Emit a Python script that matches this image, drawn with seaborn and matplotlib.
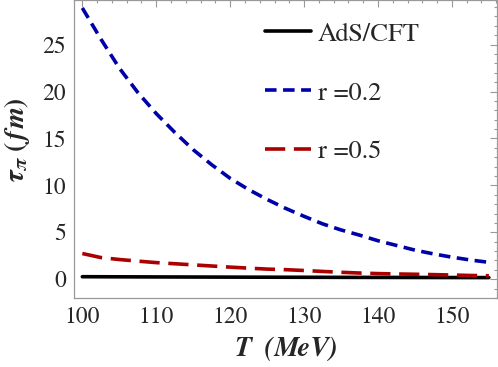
import numpy as np
import pandas as pd
import seaborn as sns
import matplotlib.pyplot as plt
from matplotlib.ticker import MultipleLocator

# Valeurs (T en MeV, tau en fm)
T = [100, 102.5, 105, 107.5, 110, 112.5, 115, 117.5, 120, 122.5, 125, 127.5,
     130, 132.5, 135, 137.5, 140, 142.5, 145, 147.5, 150, 152.5, 155]
tau_ads = [0.27, 0.263, 0.257, 0.251, 0.245, 0.24, 0.235, 0.23, 0.225, 0.22, 0.216, 0.212,
           0.208, 0.204, 0.2, 0.196, 0.193, 0.19, 0.186, 0.183, 0.18, 0.177, 0.174]
tau_r02 = [28.9, 25.6, 22.5, 19.9, 17.65, 15.65, 13.8, 12.2, 10.75, 9.55, 8.5, 7.55,
           6.7, 5.9, 5.25, 4.7, 4.1, 3.6, 3.1, 2.7, 2.35, 2.05, 1.8]
tau_r05 = [2.74, 2.31, 2.1, 1.93, 1.77, 1.65, 1.53, 1.41, 1.29, 1.18, 1.08, 1.02,
           0.93, 0.83, 0.74, 0.66, 0.6, 0.56, 0.53, 0.49, 0.45, 0.40, 0.37]

labels = ['AdS/CFT', 'r =0.2', 'r =0.5']

df = pd.DataFrame({
    'T': T * 3,
    'tau': tau_ads + tau_r02 + tau_r05,
    'serie': [labels[0]] * len(T) + [labels[1]] * len(T) + [labels[2]] * len(T),
})

sns.set_style('white')
plt.rcParams['font.family'] = ['FreeSerif', 'Liberation Serif', 'DejaVu Serif']
plt.rcParams['mathtext.fontset'] = 'custom'
plt.rcParams['mathtext.rm'] = 'FreeSerif:bold'
plt.rcParams['mathtext.it'] = 'FreeSerif:bold:italic'
plt.rcParams['mathtext.bf'] = 'FreeSerif:bold'

fig = plt.figure(figsize=(4.98, 3.67), dpi=100)
ax = fig.add_axes([0.149, 0.188, 0.849, 0.812])

couleurs = {labels[0]: 'black', labels[1]: '#0000aa', labels[2]: '#aa0000'}
styles = {labels[0]: '', labels[1]: (3.2, 1.8), labels[2]: (5.6, 2.4)}
sns.lineplot(data=df, x='T', y='tau', hue='serie', style='serie',
             palette=couleurs, dashes=styles, linewidth=2.6, ax=ax,
             hue_order=labels, style_order=labels)

ax.set_xlim(98.9, 156.1)
ax.set_ylim(-2.0, 29.75)
ax.set_xticks([100, 110, 120, 130, 140, 150])
ax.set_yticks([0, 5, 10, 15, 20, 25])
ax.xaxis.set_minor_locator(MultipleLocator(2))
ax.yaxis.set_minor_locator(MultipleLocator(1))
ax.tick_params(which='both', direction='in', top=True, right=True, color='#999999', width=0.8)
ax.tick_params(which='major', length=5, labelsize=17, pad=6)
ax.tick_params(which='minor', length=2.5)
for s in ax.spines.values():
    s.set_color('#999999')
    s.set_linewidth(0.9)

ax.set_xlabel('T  (MeV)', fontsize=20, fontweight='bold', fontstyle='italic', labelpad=6)
ax.set_ylabel(r'$\tau_\pi\ (fm)$', fontsize=20)
ax.yaxis.set_label_coords(-0.10, 0.53)

leg = ax.legend(loc='upper left', bbox_to_anchor=(0.395, 1.005), frameon=False,
                fontsize=19, handlelength=1.75, handletextpad=0.25, labelspacing=1.3)

plt.savefig('out.png', dpi=100)
